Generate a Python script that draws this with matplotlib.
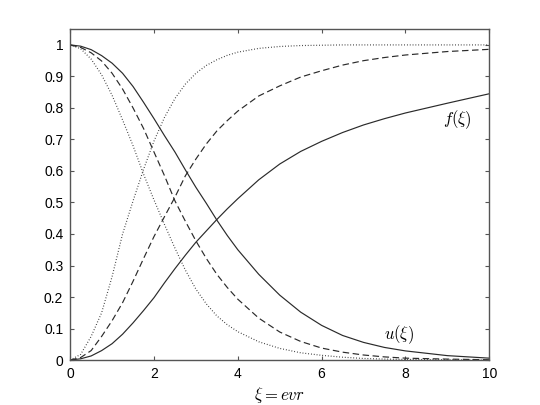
import numpy as np
import matplotlib
matplotlib.use('Agg')
from matplotlib import pyplot as plt

plt.rcParams['font.family'] = ['Liberation Sans', 'DejaVu Sans']
plt.rcParams['mathtext.fontset'] = 'cm'

# values
xi = [0, 0.25, 0.5, 0.75, 1, 1.25, 1.5, 1.75, 2, 2.25, 2.5, 2.75, 3, 3.25,
      3.5, 3.75, 4, 4.5, 5, 5.5, 6, 6.5, 7, 7.5, 8, 9, 10]

# u(xi), decreasing curves
u_solid = [1.000, 0.996, 0.985, 0.966, 0.942, 0.910, 0.868, 0.818, 0.766,
           0.712, 0.660, 0.603, 0.548, 0.497, 0.444, 0.395, 0.350, 0.272,
           0.206, 0.152, 0.110, 0.078, 0.056, 0.040, 0.029, 0.014, 0.006]
u_dashed = [1.000, 0.992, 0.975, 0.949, 0.910, 0.860, 0.800, 0.735, 0.660,
            0.585, 0.505, 0.440, 0.378, 0.322, 0.272, 0.230, 0.193, 0.133,
            0.089, 0.059, 0.038, 0.025, 0.016, 0.010, 0.006, 0.003, 0.001]
u_dotted = [1.000, 0.988, 0.955, 0.905, 0.840, 0.762, 0.680, 0.590, 0.508,
            0.430, 0.355, 0.285, 0.225, 0.178, 0.140, 0.112, 0.090, 0.058,
            0.037, 0.023, 0.015, 0.009, 0.005, 0.003, 0.002, 0.001, 0.000]

# f(xi), increasing curves
f_solid = [0.000, 0.004, 0.013, 0.030, 0.052, 0.082, 0.118, 0.157, 0.198,
           0.245, 0.290, 0.333, 0.374, 0.410, 0.446, 0.480, 0.512, 0.572,
           0.622, 0.662, 0.694, 0.722, 0.746, 0.766, 0.784, 0.815, 0.845]
f_dashed = [0.000, 0.008, 0.030, 0.075, 0.125, 0.182, 0.250, 0.322, 0.392,
            0.455, 0.517, 0.585, 0.638, 0.686, 0.727, 0.760, 0.790, 0.838,
            0.870, 0.898, 0.918, 0.936, 0.950, 0.960, 0.968, 0.979, 0.986]
f_dotted = [0.000, 0.018, 0.075, 0.150, 0.265, 0.400, 0.505, 0.605, 0.695,
            0.770, 0.830, 0.876, 0.910, 0.935, 0.953, 0.967, 0.977, 0.989,
            0.995, 0.998, 0.999, 1.000, 1.000, 1.000, 1.000, 1.000, 1.000]

fig = plt.figure(figsize=(5.4, 4.05), dpi=100)
ax = fig.add_axes([0.130, 0.111, 0.776, 0.817])

col = '#2a2a2a'
lw = 0.85
ax.plot(xi, u_solid, color=col, lw=lw)
ax.plot(xi, f_solid, color=col, lw=lw)
ax.plot(xi, u_dashed, color=col, lw=lw, dashes=(5.5, 3))
ax.plot(xi, f_dashed, color=col, lw=lw, dashes=(5.5, 3))
ax.plot(xi, u_dotted, color=col, lw=lw, dashes=(0.7, 1.7))
ax.plot(xi, f_dotted, color=col, lw=lw, dashes=(0.7, 1.7))

ax.text(9.23, 0.762, r'$f(\xi)$', fontsize=12, ha='center', va='center')
ax.text(7.84, 0.082, r'$u(\xi)$', fontsize=12, ha='center', va='center')

ax.set_xlim(0, 10)
ax.set_ylim(0, 1.05)
ax.set_xticks([0, 2, 4, 6, 8, 10])
ax.set_xticklabels(['0', '2', '4', '6', '8', '10'])
yt = [0, 0.1, 0.2, 0.3, 0.4, 0.5, 0.6, 0.7, 0.8, 0.9, 1]
ax.set_yticks(yt)
ax.set_yticklabels(['0', '0.1', '0.2', '0.3', '0.4', '0.5', '0.6', '0.7', '0.8', '0.9', '1'])
ax.tick_params(direction='in', length=3, width=0.8, color='#555555',
               top=True, right=True, labelsize=10, pad=5)
for s in ax.spines.values():
    s.set_color('#555555')
    s.set_linewidth(1)

ax.set_xlabel(r'$\xi = evr$', fontsize=12, labelpad=3)

plt.savefig('out.png', dpi=100)
